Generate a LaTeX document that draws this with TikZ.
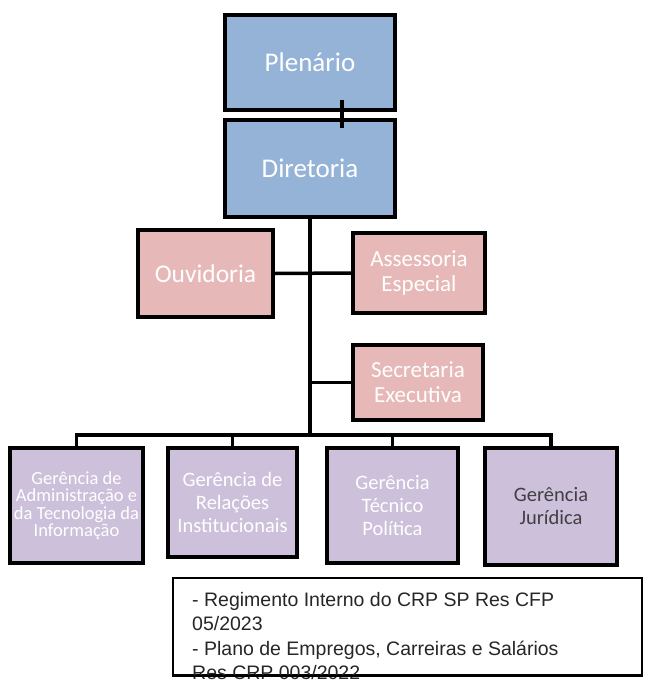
\documentclass[tikz,border=0pt]{standalone}
\usepackage{fontspec}
\setmainfont{Carlito}
\newfontfamily\notefont{Liberation Sans}
\usepackage{tikz}
\usetikzlibrary{positioning,calc}
\definecolor{boardblue}{HTML}{95B3D7}
\definecolor{staffpink}{HTML}{E6B9B8}
\definecolor{unitlilac}{HTML}{CCC0DA}
\tikzset{
    x=1pt,
    y=-1pt,
    box/.style = {
        draw,
        shape=rectangle,
        line width=3.5pt,
        align=center,
        inner sep=0pt,
        text=white
    },
    board/.style = {
        box,
        fill=boardblue,
        minimum width=170pt,
        font=\fontsize{27}{32}\selectfont
    },
    staff/.style = {
        box,
        fill=staffpink,
        font=\fontsize{23}{25}\selectfont
    },
    unit/.style = {
        box,
        fill=unitlilac,
        font=\fontsize{20.5}{23}\selectfont
    },
    notebox/.style = {
        draw,
        shape=rectangle,
        line width=1.8pt,
        minimum width=469pt,
        minimum height=97pt
    },
    link/.style = {
        line width=3.5pt
    },
}

\begin{document}
\begin{tikzpicture}
                \clip (0,0) rectangle (646,680);

                \node[board, minimum height=95pt] (plen) at (310,62.5) {Plenário};
                \node[board, minimum height=97pt] (dir) at (310,168.5) {Diretoria};
                \node[staff, minimum width=135pt, minimum height=87pt, font=\fontsize{25.5}{28}\selectfont] (ouv) at (205.5,273.5) {Ouvidoria};
                \node[staff, minimum width=132pt, minimum height=80pt] (asse) at (419,273) {Assessoria\\Especial};
                \node[staff, minimum width=130pt, minimum height=75pt] (sec) at (418,382.5) {Secretaria\\Executiva};
                \node[unit, minimum width=133pt, minimum height=115pt, font=\fontsize{18.5}{17.5}\selectfont] (gadm) at (76.5,505.5) {Gerência de\\Administração e\\da Tecnologia da\\Informação};
                \node[unit, minimum width=129pt, minimum height=109pt] (grel) at (232.5,502.5) {Gerência de\\Relações\\Institucionais};
                \node[unit, minimum width=131pt, minimum height=115pt] (gtec) at (392.5,505.5) {Gerência\\Técnico\\Política};
                \node[unit, minimum width=132pt, minimum height=117pt, text=black!75] (gjur) at (551,506.5) {Gerência\\Jurídica};
                \coordinate (bus) at (310,435);

                \path[draw, link] ([xshift=32pt,yshift=12pt]plen.south) -- ([xshift=32pt,yshift=-10pt]dir.north);
                \path[draw, link] (dir.south) -- (bus);
                \path[draw, link] (ouv.east) -- (asse.west);
                \path[draw, link] (sec.west) -- (sec.west -| dir.south);
                \path[draw, link] (gadm.north) |- (bus) -| (gjur.north);
                \path[draw, link] (grel.north) -- (grel.north |- bus);
                \path[draw, link] (gtec.north) -- (gtec.north |- bus);

                \node[notebox, fill=white] (note) at (407.5,626.5) {};
                \node[anchor=north west, align=left, inner sep=0pt, text=black!85,
                font=\notefont\fontsize{19.5}{24.5}\selectfont] (notetext) at (192,592)
                {- Regimento Interno do CRP SP Res CFP\\05/2023\\- Plano de Empregos, Carreiras e Salários\\Res CRP 003/2022};
                \path[draw, line width=1.8pt] (note.south west) -- (note.south east);
            \end{tikzpicture}
\end{document}
